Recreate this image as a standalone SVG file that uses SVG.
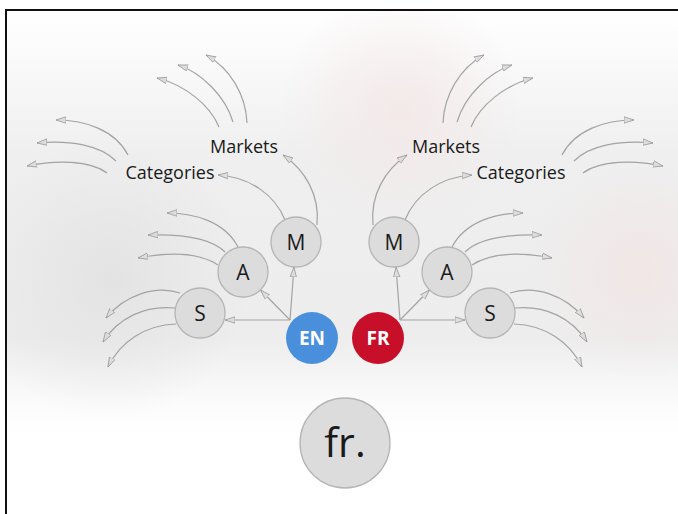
<svg xmlns="http://www.w3.org/2000/svg" width="678" height="514" viewBox="0 0 678 514">
<defs>
<linearGradient id="bgv" x1="0" y1="0" x2="0" y2="514" gradientUnits="userSpaceOnUse">
<stop offset="0" stop-color="#ffffff"/>
<stop offset="0.1" stop-color="#fbfbfb"/>
<stop offset="0.3" stop-color="#efefef"/>
<stop offset="0.66" stop-color="#ededed"/>
<stop offset="0.78" stop-color="#fbfbfb"/>
<stop offset="0.85" stop-color="#ffffff"/>
</linearGradient>
<radialGradient id="pink1" cx="400" cy="110" r="120" gradientUnits="userSpaceOnUse">
<stop offset="0" stop-color="#f3e6e6" stop-opacity="0.8"/>
<stop offset="1" stop-color="#f3e6e6" stop-opacity="0"/>
</radialGradient>
<radialGradient id="pink2" cx="640" cy="270" r="110" gradientUnits="userSpaceOnUse">
<stop offset="0" stop-color="#f2e4e4" stop-opacity="0.8"/>
<stop offset="1" stop-color="#f2e4e4" stop-opacity="0"/>
</radialGradient>
<radialGradient id="grayL" cx="110" cy="280" r="140" gradientUnits="userSpaceOnUse">
<stop offset="0" stop-color="#e2e2e2" stop-opacity="0.9"/>
<stop offset="1" stop-color="#e2e2e2" stop-opacity="0"/>
</radialGradient>
<marker id="ah" viewBox="0 0 10 8" refX="10" refY="4" markerWidth="10" markerHeight="8" markerUnits="userSpaceOnUse" orient="auto">
<path d="M0,0.8 L10,4 L0,7.2 Z" fill="#dddddd" stroke="#9a9a9a" stroke-width="0.8"/>
</marker>
<style>
.c{fill:none;stroke:#a3a3a3;stroke-width:1.2;marker-end:url(#ah)}
.n{fill:#dcdcdc;stroke:#b5b5b5;stroke-width:1.3}
.t{font-family:"Open Sans","Noto Sans",sans-serif;fill:#1a1a1a;text-anchor:middle}
.lbl{font-size:18px}
.nt{font-size:21px}
.w{font-family:"Open Sans","Noto Sans",sans-serif;font-weight:700;font-size:19px;fill:#ffffff;text-anchor:middle}
</style>
</defs>
<rect width="678" height="514" fill="#ffffff"/>
<rect x="6" y="10" width="672" height="504" fill="url(#bgv)"/>
<rect x="6" y="10" width="672" height="504" fill="url(#grayL)"/>
<rect x="6" y="10" width="672" height="504" fill="url(#pink1)"/>
<rect x="6" y="10" width="672" height="504" fill="url(#pink2)"/>
<path d="M6,514 V10 H678" fill="none" stroke="#111111" stroke-width="2"/>

<g id="connectors">
<path class="c" d="M290,320 L225,320"/>
<path class="c" d="M290,320 L260.5,290"/>
<path class="c" d="M290,320 L294,267"/>
<path class="c" d="M400,320 L465,320"/>
<path class="c" d="M400,320 L429.5,290"/>
<path class="c" d="M400,320 L396,267"/>
<path class="c" d="M285,220 C275,195 250,177 218,175"/>
<path class="c" d="M317,225 C320,195 305,170 283,155"/>
<path class="c" d="M219,127 C210,105 185,85 157,78"/>
<path class="c" d="M233,122 C225,95 200,72 178,65"/>
<path class="c" d="M247,123 C246,95 230,68 206,55"/>
<path class="c" d="M128,155 C115,130 85,120 56,120"/>
<path class="c" d="M116,161 C100,145 70,140 37,143"/>
<path class="c" d="M107,173 C90,160 55,160 27,166"/>
<path class="c" d="M238,247 C225,222 195,213 167,213"/>
<path class="c" d="M225,252 C210,237 180,234 148,235"/>
<path class="c" d="M218,265 C200,253 170,252 138,258"/>
<path class="c" d="M180,293 C155,285 125,295 106,318"/>
<path class="c" d="M175,308 C145,305 118,318 103,342"/>
<path class="c" d="M176,324 C145,325 120,342 108,367"/>
<path class="c" d="M405,220 C415,195 440,177 472,175"/>
<path class="c" d="M373,225 C370,195 385,170 407,155"/>
<path class="c" d="M471,127 C480,105 505,85 533,78"/>
<path class="c" d="M457,122 C465,95 490,72 512,65"/>
<path class="c" d="M443,123 C444,95 460,68 484,55"/>
<path class="c" d="M562,155 C575,130 605,120 634,120"/>
<path class="c" d="M574,161 C590,145 620,140 653,143"/>
<path class="c" d="M583,173 C600,160 635,160 663,166"/>
<path class="c" d="M452,247 C465,222 495,213 523,213"/>
<path class="c" d="M465,252 C480,237 510,234 542,235"/>
<path class="c" d="M472,265 C490,253 520,252 552,258"/>
<path class="c" d="M510,293 C535,285 565,295 584,318"/>
<path class="c" d="M515,308 C545,305 572,318 587,342"/>
<path class="c" d="M514,324 C545,325 570,342 582,367"/>
</g>

<g id="markets-left"><text class="t lbl" x="244" y="153">Markets</text></g>
<g id="categories-left"><text class="t lbl" x="170" y="179">Categories</text></g>
<g id="markets-right"><text class="t lbl" x="446" y="153">Markets</text></g>
<g id="categories-right"><text class="t lbl" x="521" y="179">Categories</text></g>

<g id="m-left"><circle class="n" cx="296" cy="242" r="25"/><text class="t nt" x="296" y="249.5">M</text></g>
<g id="a-left"><circle class="n" cx="243" cy="272" r="25"/><text class="t nt" x="243" y="279.5">A</text></g>
<g id="s-left"><circle class="n" cx="200" cy="313" r="25"/><text class="t nt" x="200" y="320.5">S</text></g>
<g id="m-right"><circle class="n" cx="394" cy="242" r="25"/><text class="t nt" x="394" y="249.5">M</text></g>
<g id="a-right"><circle class="n" cx="447" cy="272" r="25"/><text class="t nt" x="447" y="279.5">A</text></g>
<g id="s-right"><circle class="n" cx="490" cy="313" r="25"/><text class="t nt" x="490" y="320.5">S</text></g>

<g id="en"><circle cx="312" cy="338" r="26" fill="#4a8fdc"/><text class="w" x="312" y="345">EN</text></g>
<g id="fr"><circle cx="378" cy="338" r="26" fill="#c70f2a"/><text class="w" x="378" y="345">FR</text></g>

<g id="fr-dot"><circle class="n" cx="345" cy="443" r="45"/><text class="t" x="345" y="457" font-size="41" fill="#111111">fr.</text></g>
</svg>
